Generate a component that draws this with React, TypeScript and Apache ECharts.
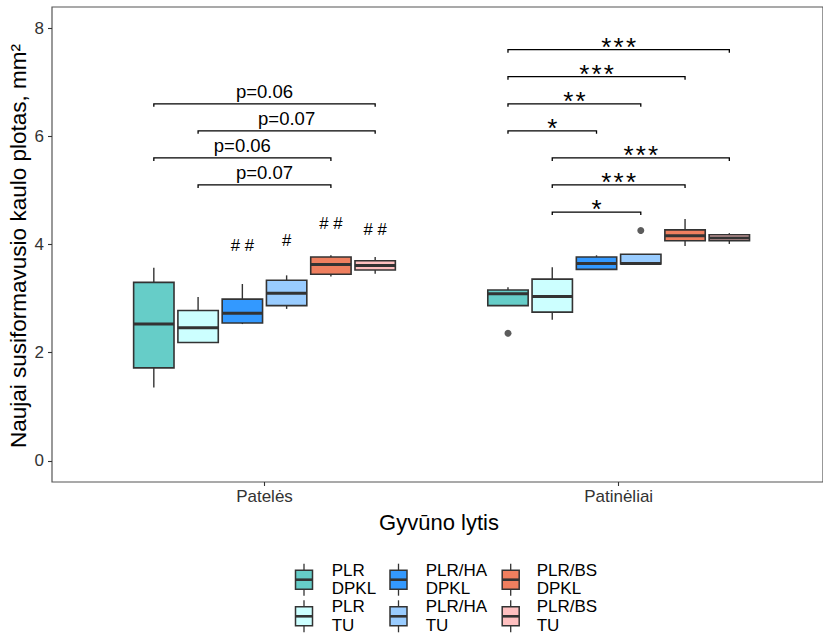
import { useEffect, useRef } from 'react';
import * as echarts from 'echarts';

// Sexes on the x axis and the six treatment groups dodged within each
const categories = ['Patelės', 'Patinėliai'];
const groupLabels = ['PLR\nDPKL', 'PLR\nTU', 'PLR/HA\nDPKL', 'PLR/HA\nTU', 'PLR/BS\nDPKL', 'PLR/BS\nTU'];
const groupColors = ['#66CDC8', '#CCFFFF', '#3399FF', '#99CCFF', '#EF7F5F', '#FFC0C0'];

// Five-number summaries per group: [lower whisker, Q1, median, Q3, upper whisker]
const femaleBoxes = [
  [1.36, 1.72, 2.53, 3.30, 3.57],
  [2.18, 2.19, 2.46, 2.78, 3.03],
  [2.53, 2.55, 2.73, 2.99, 3.27],
  [2.81, 2.87, 3.10, 3.34, 3.43],
  [3.41, 3.45, 3.63, 3.77, 3.80],
  [3.46, 3.53, 3.61, 3.70, 3.77],
];
const maleBoxes = [
  [2.87, 2.87, 3.09, 3.16, 3.21],
  [2.61, 2.75, 3.04, 3.36, 3.58],
  [3.54, 3.54, 3.65, 3.77, 3.80],
  [3.64, 3.64, 3.65, 3.82, 3.82],
  [3.97, 4.07, 4.16, 4.27, 4.47],
  [4.01, 4.07, 4.12, 4.18, 4.21],
];

// Outlying points: [category index, group index, value]
const outliers = [
  [1, 0, 2.36],
  [1, 3, 4.26],
];

// "#" marks over the female groups and the height they sit at
const femaleHash = ['', '', '# #', '#', '# #', '# #'];
const femaleHashY = [0, 0, 3.98, 4.08, 4.39, 4.28];

// Comparison brackets: category, first group, second group, height, label
const femaleBrackets = [
  { cat: 0, from: 0, to: 5, y: 6.6, label: 'p=0.06' },
  { cat: 0, from: 1, to: 5, y: 6.1, label: 'p=0.07' },
  { cat: 0, from: 0, to: 4, y: 5.6, label: 'p=0.06' },
  { cat: 0, from: 1, to: 4, y: 5.1, label: 'p=0.07' },
];
const maleBrackets = [
  { cat: 1, from: 0, to: 5, y: 7.6, label: '***' },
  { cat: 1, from: 0, to: 4, y: 7.1, label: '***' },
  { cat: 1, from: 0, to: 3, y: 6.6, label: '**' },
  { cat: 1, from: 0, to: 2, y: 6.1, label: '*' },
  { cat: 1, from: 1, to: 5, y: 5.6, label: '***' },
  { cat: 1, from: 1, to: 4, y: 5.1, label: '***' },
  { cat: 1, from: 1, to: 3, y: 4.6, label: '*' },
];

const yTicks = [0, 2, 4, 6, 8];

const FONT = '"Liberation Sans", Arial, sans-serif';
const DODGE = 0.125;
const BOX_W = 0.114;
const INK = '#333333';

const xPos = (cat: number, g: number) => cat + 1 + (g - 2.5) * DODGE;

export default function App() {
  const ref = useRef<HTMLDivElement>(null);

  useEffect(() => {
    if (!ref.current) return;
    const chart = echarts.init(ref.current, null, { renderer: 'svg' });

    const boxData: number[][] = [];
    [femaleBoxes, maleBoxes].forEach((boxes, c) => {
      boxes.forEach((s, g) => boxData.push([xPos(c, g), ...s, g]));
    });

    const allBrackets = [...femaleBrackets, ...maleBrackets];
    const bracketData = allBrackets.map((b, i) => [xPos(b.cat, b.from), xPos(b.cat, b.to), b.y, i]);

    const hashData = femaleHash
      .map((t, g) => [xPos(0, g), femaleHashY[g], g])
      .filter((d) => femaleHash[d[2]] !== '');

    // legend drawn as ggplot-style boxplot keys in a 3 x 2 layout
    const keyX = [304, 398.5, 510.7];
    const textX = [331.7, 425.7, 536.7];
    const rowY = [579.7, 616.3];
    const legend: any[] = [];
    groupLabels.forEach((lab, g) => {
      const col = Math.floor(g / 2);
      const row = g % 2;
      const cx = keyX[col];
      const cy = rowY[row];
      legend.push(
        { type: 'line', shape: { x1: cx, y1: cy - 16, x2: cx, y2: cy - 9.5 }, style: { stroke: INK, lineWidth: 1.3 } },
        { type: 'line', shape: { x1: cx, y1: cy + 9.5, x2: cx, y2: cy + 16 }, style: { stroke: INK, lineWidth: 1.3 } },
        { type: 'rect', shape: { x: cx - 8.5, y: cy - 9.5, width: 17, height: 19 }, style: { fill: groupColors[g], stroke: INK, lineWidth: 1.5 } },
        { type: 'line', shape: { x1: cx - 8.5, y1: cy, x2: cx + 8.5, y2: cy }, style: { stroke: INK, lineWidth: 2.6 } },
      );
      const lines = lab.split('\n');
      lines.forEach((ln, k) => {
        legend.push({
          type: 'text',
          x: textX[col],
          y: cy - 9.4 + k * 18.2,
          style: { text: ln, fill: '#000', font: `17px ${FONT}`, textAlign: 'left', textVerticalAlign: 'middle' },
        });
      });
    });

    chart.setOption({
      animation: false,
      backgroundColor: '#fff',
      grid: {
        left: 52,
        top: 7,
        right: -2,
        bottom: 152,
        show: true,
        borderColor: '#555',
        borderWidth: 1.2,
        backgroundColor: 'transparent',
      },
      xAxis: {
        type: 'value',
        min: 0.4,
        max: 2.577,
        position: 'bottom',
        axisLine: { show: false, onZero: false },
        splitLine: { show: false },
        axisTick: { show: true, customValues: [1, 2], length: 4, lineStyle: { color: INK, width: 1.1 } },
        axisLabel: {
          customValues: [1, 2],
          formatter: (v: number) => categories[Math.round(v) - 1] ?? '',
          color: '#333',
          fontSize: 17,
          fontFamily: FONT,
          margin: 6,
        },
      },
      yAxis: {
        type: 'value',
        min: -0.388,
        max: 8.388,
        axisLine: { show: false, onZero: false },
        splitLine: { show: false },
        axisTick: { show: true, customValues: yTicks, length: 4, lineStyle: { color: INK, width: 1.1 } },
        axisLabel: {
          customValues: yTicks,
          color: '#333',
          fontSize: 17,
          fontFamily: FONT,
          margin: 8,
        },
      },
      graphic: [
        {
          type: 'text',
          x: 439,
          y: 522,
          style: { text: 'Gyvūno lytis', fill: '#000', font: `22px ${FONT}`, textAlign: 'center', textVerticalAlign: 'middle' },
        },
        {
          type: 'text',
          x: 18,
          y: 246,
          rotation: Math.PI / 2,
          style: {
            text: 'Naujai susiformavusio kaulo plotas, mm²',
            fill: '#000',
            font: `22.5px ${FONT}`,
            textAlign: 'center',
            textVerticalAlign: 'middle',
          },
        },
        ...legend,
      ],
      series: [
        {
          type: 'custom',
          data: boxData,
          encode: { x: 0, y: [1, 2, 3, 4, 5] },
          renderItem: (_p: any, api: any) => {
            const x = api.value(0);
            const g = api.value(6);
            const lo = api.coord([x, api.value(1)]);
            const q1 = api.coord([x, api.value(2)]);
            const med = api.coord([x, api.value(3)]);
            const q3 = api.coord([x, api.value(4)]);
            const hi = api.coord([x, api.value(5)]);
            const half = api.size([BOX_W, 0])[0] / 2;
            const cx = lo[0];
            return {
              type: 'group',
              children: [
                { type: 'line', shape: { x1: cx, y1: hi[1], x2: cx, y2: q3[1] }, style: { stroke: INK, lineWidth: 1.4 } },
                { type: 'line', shape: { x1: cx, y1: q1[1], x2: cx, y2: lo[1] }, style: { stroke: INK, lineWidth: 1.4 } },
                {
                  type: 'rect',
                  shape: { x: cx - half, y: q3[1], width: half * 2, height: q1[1] - q3[1] },
                  style: { fill: groupColors[g], stroke: INK, lineWidth: 1.6 },
                },
                { type: 'line', shape: { x1: cx - half, y1: med[1], x2: cx + half, y2: med[1] }, style: { stroke: INK, lineWidth: 3 } },
              ],
            };
          },
        },
        {
          type: 'scatter',
          data: outliers.map(([c, g, v]) => [xPos(c, g), v]),
          symbol: 'circle',
          symbolSize: 7,
          itemStyle: { color: INK },
        },
        {
          type: 'custom',
          data: hashData,
          encode: { x: 0, y: 1 },
          renderItem: (_p: any, api: any) => {
            const p = api.coord([api.value(0), api.value(1)]);
            return {
              type: 'text',
              x: p[0],
              y: p[1],
              style: { text: femaleHash[api.value(2)], fill: '#000', font: `16.7px ${FONT}`, textAlign: 'center', textVerticalAlign: 'middle' },
            };
          },
        },
        {
          type: 'custom',
          data: bracketData,
          encode: { x: [0, 1], y: 2 },
          renderItem: (_p: any, api: any) => {
            const a = api.coord([api.value(0), api.value(2)]);
            const b = api.coord([api.value(1), api.value(2)]);
            const label = allBrackets[api.value(3)].label;
            const mid = (a[0] + b[0]) / 2;
            const children: any[] = [
              {
                type: 'polyline',
                shape: { points: [[a[0], a[1] + 3], [a[0], a[1]], [b[0], b[1]], [b[0], b[1] + 3]] },
                style: { stroke: '#000', lineWidth: 1.3, fill: 'none' },
              },
            ];
            if (label.startsWith('p')) {
              children.push({
                type: 'text',
                x: mid,
                y: a[1] - 12,
                style: { text: label, fill: '#000', font: `18.5px ${FONT}`, textAlign: 'center', textVerticalAlign: 'middle' },
              });
            } else {
              const n = label.length;
              for (let k = 0; k < n; k++) {
                children.push({
                  type: 'text',
                  x: mid + (k - (n - 1) / 2) * 12.3,
                  y: a[1] - 2.7,
                  style: { text: '*', fill: '#000', font: `26px ${FONT}`, textAlign: 'center', textVerticalAlign: 'middle' },
                });
              }
            }
            return { type: 'group', children };
          },
        },
      ],
    });

    return () => chart.dispose();
  }, []);

  return <div ref={ref} style={{ position: 'absolute', left: 0, top: 0, width: 823, height: 634 }} />;
}
